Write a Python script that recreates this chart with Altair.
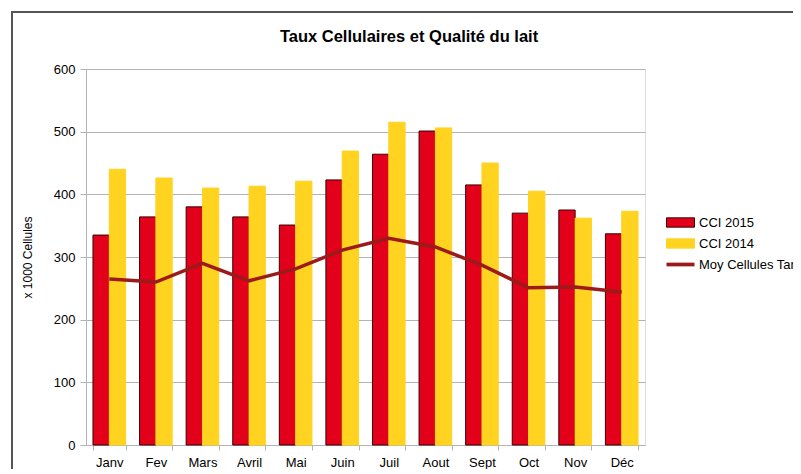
import altair as alt
import pandas as pd

months = ["Janv", "Fev", "Mars", "Avril", "Mai", "Juin", "Juil", "Aout", "Sept", "Oct", "Nov", "Déc"]
cci_2015 = [335, 364, 380, 364, 351, 423, 464, 501, 415, 370, 375, 337]
cci_2014 = [440, 426, 410, 413, 421, 469, 515, 506, 450, 405, 362, 373]
moy_tank = [265, 260, 290, 262, 281, 311, 330, 316, 287, 251, 252, 244]
series = ["CCI 2015", "CCI 2014"]
line_name = "Moy Cellules Tank"
y_ticks = [0, 100, 200, 300, 400, 500, 600]
title_text = "Taux Cellulaires et Qualité du lait"

RED = "#e2001a"
YELLOW = "#ffd320"
DARK = "#9c1a1a"
FONT = "Liberation Sans"

bars_df = pd.DataFrame(
    [{"mois": m, "serie": "CCI 2015", "val": v} for m, v in zip(months, cci_2015)]
    + [{"mois": m, "serie": "CCI 2014", "val": v} for m, v in zip(months, cci_2014)]
)
line_df = pd.DataFrame({"mois": months, "moy": moy_tank, "serie2": [line_name] * len(months)})
frame_df = pd.DataFrame({"t": [title_text]})

rect_path = "M-3,-1L3,-1L3,1L-3,1Z"
line_path = "M-3,-0.4L3,-0.4L3,0.4L-3,0.4Z"

x_axis = alt.Axis(title=None, tickBand="extent", labelAngle=0, labelFontSize=13,
                  labelFont=FONT, labelColor="#000000", labelPadding=6, tickSize=5,
                  tickColor="#b3b3b3", domainColor="#b3b3b3", grid=False)
y_axis = alt.Axis(title="x 1000 Cellules", values=y_ticks, labelFontSize=13, labelFont=FONT,
                  labelColor="#000000", titleFont=FONT, titleFontSize=12, titleFontWeight="normal",
                  titleColor="#000000", titlePadding=19, tickSize=6, tickColor="#b3b3b3",
                  domainColor="#b3b3b3", gridColor="#b3b3b3", labelPadding=5)

bar_legend = alt.Legend(title=None, orient="none", legendX=588, legendY=147,
                        symbolType=rect_path, symbolSize=87, labelFont=FONT,
                        labelFontSize=13, labelColor="#000000", rowPadding=6,
                        labelOffset=12, padding=0, symbolOpacity=1, symbolStrokeWidth=1)

bars = alt.Chart(bars_df).mark_bar(strokeWidth=1).encode(
    x=alt.X("mois:N", sort=months, scale=alt.Scale(paddingInner=0.3, paddingOuter=0.15), axis=x_axis),
    xOffset=alt.XOffset("serie:N", sort=series, scale=alt.Scale(paddingInner=0)),
    y=alt.Y("val:Q", scale=alt.Scale(domain=[0, 600]), axis=y_axis),
    color=alt.Color("serie:N", sort=series,
                    scale=alt.Scale(domain=series, range=[RED, YELLOW]),
                    legend=bar_legend),
    stroke=alt.Stroke("serie:N", sort=series,
                      scale=alt.Scale(domain=series, range=["#3a0000", YELLOW]),
                      legend=bar_legend),
)

line = alt.Chart(line_df).mark_line(strokeWidth=3.5).encode(
    x=alt.X("mois:N", sort=months, axis=x_axis),
    y=alt.Y("moy:Q", axis=y_axis),
    color=alt.Color("serie2:N", scale=alt.Scale(domain=[line_name], range=[DARK]),
                    legend=alt.Legend(title=None, orient="none", legendX=588, legendY=189,
                                      symbolType=line_path, symbolSize=87, labelFont=FONT,
                                      labelFontSize=13, labelColor="#000000", padding=0,
                                      labelOffset=12,
                                      symbolFillColor=DARK, symbolStrokeWidth=0)),
)

frame_left = alt.Chart(frame_df).mark_rule(color="#555555", strokeWidth=2, clip=False).encode(
    x=alt.value(-74), y=alt.value(-57), y2=alt.value(500))
frame_top = alt.Chart(frame_df).mark_rule(color="#555555", strokeWidth=2, clip=False).encode(
    x=alt.value(-75), x2=alt.value(900), y=alt.value(-57))
title = alt.Chart(frame_df).mark_text(font=FONT, fontSize=16.5, fontWeight="bold", color="#000000",
                                      align="center", baseline="middle", clip=False).encode(
    text="t:N", x=alt.value(323), y=alt.value(-32))

chart = alt.layer(bars, line, frame_left, frame_top, title).resolve_scale(
    color="independent", stroke="independent").properties(
    width=559, height=376,
    autosize="none",
    padding={"left": 78, "top": 61, "right": 148, "bottom": 24},
).configure_view(stroke="#b3b3b3").configure(background="white")

chart.save("out.html", embed_options={"renderer": "svg", "actions": False})
